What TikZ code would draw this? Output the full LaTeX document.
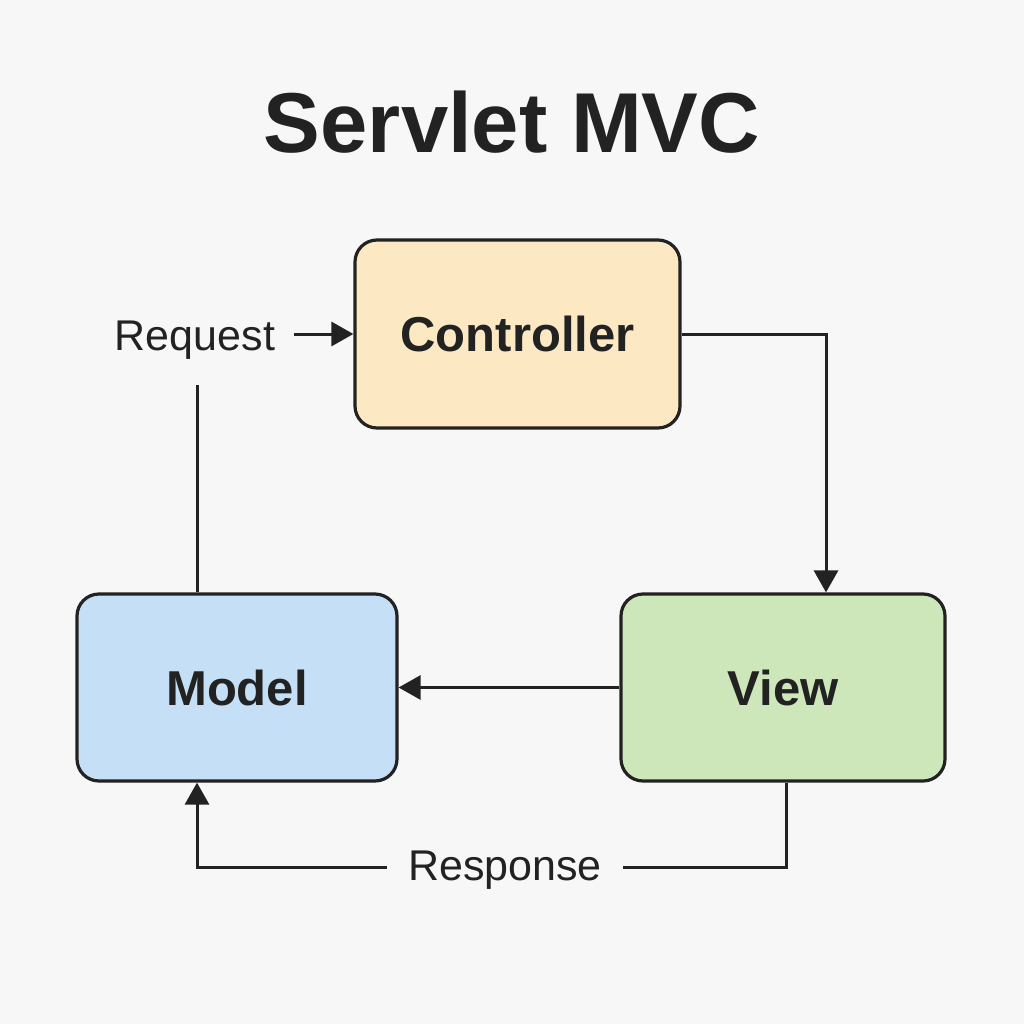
\documentclass[tikz,border=0pt]{standalone}
\usepackage{fontspec}
\setmainfont{Liberation Sans}
\usetikzlibrary{arrows.meta}
\definecolor{bg}{HTML}{F7F7F7}
\definecolor{ink}{HTML}{222222}
\definecolor{ctrlfill}{HTML}{FCE9C4}
\definecolor{modelfill}{HTML}{C4DFF6}
\definecolor{viewfill}{HTML}{CDE7BA}
\begin{document}
\begin{tikzpicture}[x=1pt,y=-1pt,
  box/.style={draw=ink,line width=3.2pt,rounded corners=22pt,text=ink,
    font=\fontsize{49}{55}\selectfont\bfseries,anchor=center},
  conn/.style={draw=ink,line width=3pt},
  arr/.style={conn,-{Triangle[length=22pt,width=24pt]}},
  lbl/.style={text=ink,font=\fontsize{43}{48}\selectfont,inner sep=0pt}]
\fill[bg] (0,0) rectangle (1024,1024);
\useasboundingbox (0,0) rectangle (1024,1024);
\node[text=ink,font=\fontsize{85}{95}\selectfont\bfseries] (title) at (512,122) {Servlet MVC};
\node[box,fill=ctrlfill,minimum width=325pt,minimum height=188pt] (ctrl) at (517.5,334) {Controller};
\node[box,fill=modelfill,minimum width=320pt,minimum height=187pt] (model) at (237,687.5) {Model};
\node[box,fill=viewfill,minimum width=324pt,minimum height=187pt] (view) at (783,687.5) {View};
\node[lbl,inner xsep=19pt] (req) at (195,340) {Request};
\node[lbl,inner xsep=21pt] (resp) at (505,870) {Response};
\coordinate (reqbot) at (197,385);
\draw[arr] (req.east |- ctrl.west) -- (ctrl.west);
\draw[conn] (reqbot |- model.north) -- (reqbot);
\draw[arr] (ctrl.east) -- (826,334) -- (826,334 |- view.north);
\draw[arr] (view.west) -- (model.east);
\draw[conn] (786,0 |- view.south) -- (786,867) -- (resp.east |- 0,867);
\draw[arr] (resp.west |- 0,867) -- (197,867) -- (197,0 |- model.south);
\end{tikzpicture}
\end{document}
